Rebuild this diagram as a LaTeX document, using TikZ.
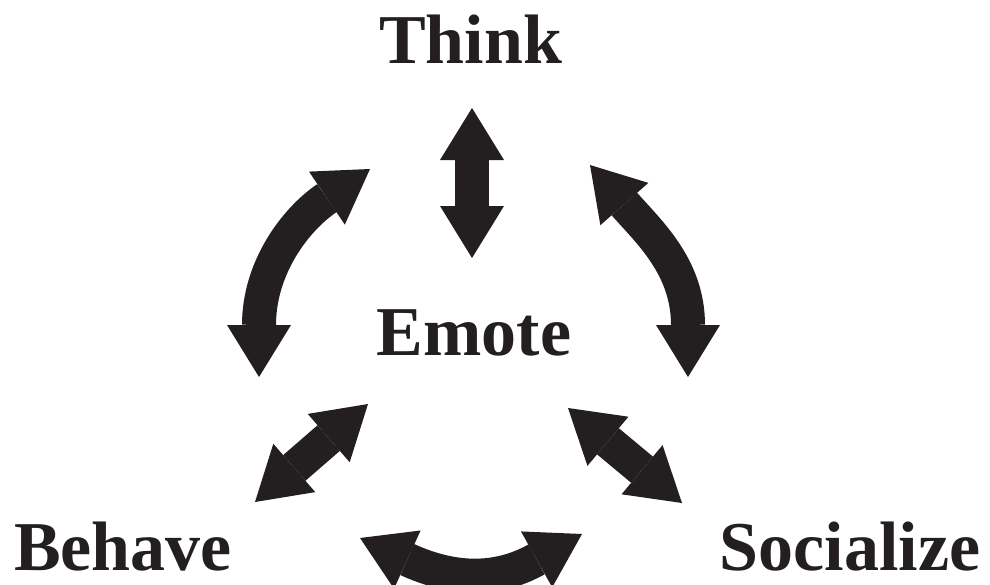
\documentclass[tikz,border=0pt]{standalone}
\usepackage{fontspec}
\setmainfont{Liberation Serif}
\usepackage{tikz}
\usetikzlibrary{arrows.meta}
\usepackage{xcolor}
\definecolor{ink}{HTML}{231F20}
\tikzstyle{word} = [anchor=base, inner sep=0pt, text=ink, font=\fontsize{35}{40}\selectfont\bfseries]
\tikzstyle{biarrow} = [draw=ink, line width=17pt, <->, >={Triangle[length=26pt, width=32pt, line width=0pt]}]

\begin{document}
\begin{tikzpicture}[x=0.5pt, y=-0.5pt]
  \useasboundingbox (0,0) rectangle (990,584);

  \node[word] (think) at (470.5,63) {Think};
  \node[word] (emote) at (474,355) {Emote};
  \node[word] (behave) at (123,570) {Behave};
  \node[word] (social) at (850,570) {Socialize};

  % arrow ends
  \coordinate (t1) at (472,108);
  \coordinate (t2) at (472,258);
  \coordinate (l1) at (259,377);
  \coordinate (l2) at (370,169);
  \coordinate (r1) at (590,165);
  \coordinate (r2) at (688,377);
  \coordinate (b1) at (368,404);
  \coordinate (b2) at (255,502);
  \coordinate (s1) at (568,408);
  \coordinate (s2) at (682,503);
  \coordinate (u1) at (360,538);
  \coordinate (u2) at (582,534);

  % arrows
  \draw[biarrow] (t1) -- (t2);
  \draw[biarrow] (l1) .. controls (259,267) and (296,219) .. (l2);
  \draw[biarrow] (r1) .. controls (649,232) and (688,267) .. (r2);
  \draw[biarrow] (b1) -- (b2);
  \draw[biarrow] (s1) -- (s2);
  \draw[biarrow] (u1) .. controls (451,579.5) and (495,582.6) .. (u2);
\end{tikzpicture}
\end{document}
